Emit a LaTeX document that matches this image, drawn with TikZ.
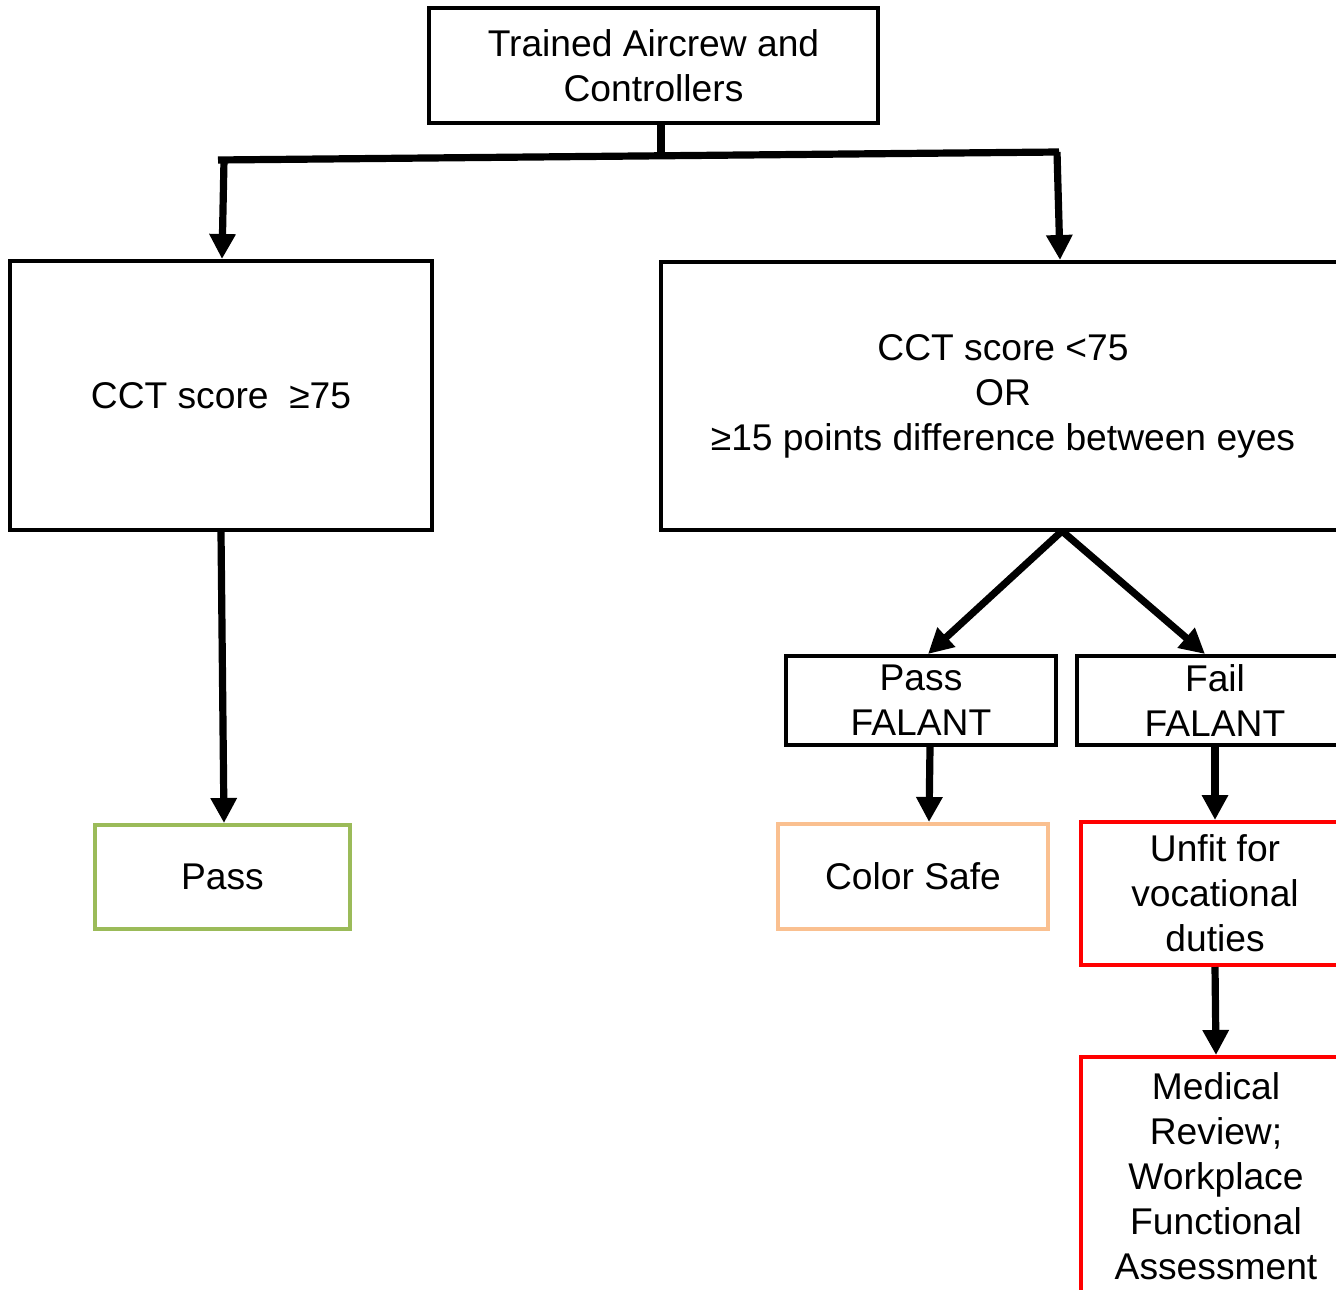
\documentclass[tikz,border=0pt]{standalone}
\usepackage{fontspec}
\setmainfont{Liberation Sans}
\usetikzlibrary{arrows.meta}
\definecolor{passgreen}{HTML}{9BBB59}
\definecolor{safeorange}{HTML}{FAC090}
\definecolor{unfitred}{HTML}{FF0000}
\begin{document}
\begin{tikzpicture}[x=0.5pt,y=-0.5pt,
  box/.style={draw=black,line width=2pt,inner sep=0pt,align=center,
    font=\fontsize{18.6}{22.5}\selectfont},
  greenbox/.style={box,draw=passgreen},
  orangebox/.style={box,draw=safeorange},
  redbox/.style={box,draw=unfitred},
  conn/.style={line width=3.6pt,line cap=butt},
  arr/.style={conn,-{Triangle[length=12.5pt,width=12.5pt]}}]
\useasboundingbox (0,0) rectangle (1336,1289);
\clip (0,0) rectangle (1336,1289);
\fill[white] (0,0) rectangle (1336,1289);

\node[box,minimum width=224.5pt,minimum height=57.5pt] (top) at (653.5,65.5) {Trained Aircrew and\\Controllers};
\node[box,minimum width=211pt,minimum height=134.5pt] (L) at (221,395.5) {CCT score\ \ ≥75};
\node[box,minimum width=342pt,minimum height=134pt] (R) at (1003,396) {CCT score <75\\OR\\≥15 points difference between eyes};
\node[greenbox,minimum width=127.5pt,minimum height=52pt] (pass) at (222.5,877) {Pass};
\node[box,minimum width=135pt,minimum height=44.5pt] (PF) at (921,700.5) {Pass\\FALANT};
\node[box,minimum width=138pt,minimum height=44.5pt] (FF) at (1215,700.5) {Fail\\FALANT};
\node[orangebox,minimum width=135pt,minimum height=52.5pt] (safe) at (913,876.5) {Color Safe};
\node[redbox,minimum width=134pt,minimum height=71.5pt] (unfit) at (1215,893.5) {Unfit for\\vocational\\duties};
\node[redbox,minimum width=135pt,minimum height=119pt] (med) at (1216,1176) {Medical\\Review;\\Workplace\\Functional\\Assessment};

\coordinate (jn) at (661,156);
\coordinate (hl) at (220,160);
\coordinate (hr) at (1057,152);
\coordinate (rb) at (1062,531);

\draw[conn] ([xshift=3.75pt]top.south) -- (jn);
\draw[conn] ([shift={(-1pt,0pt)}]hl) -- ([shift={(1pt,0pt)}]hr);
\draw[arr] ([xshift=2pt]hl) -- ([xshift=0.5pt]L.north);
\draw[arr] (hr) -- ([xshift=28.5pt]R.north);
\draw[arr] (L.south) -- ([xshift=0.75pt]pass.north);
\draw[arr] (rb) -- ([xshift=3.5pt]PF.north);
\draw[arr] (rb) -- ([xshift=-5pt]FF.north);
\draw[arr] ([xshift=4.5pt]PF.south) -- ([xshift=8pt]safe.north);
\draw[arr] (FF.south) -- (unfit.north);
\draw[arr] (unfit.south) -- ([xshift=0pt]med.north);
\end{tikzpicture}
\end{document}
